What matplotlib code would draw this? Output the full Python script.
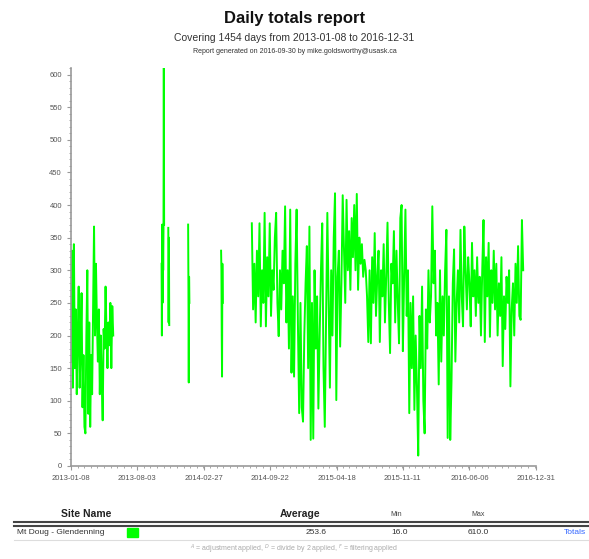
import pandas as pd
import matplotlib
matplotlib.use("Agg")
import matplotlib.pyplot as plt
from matplotlib.ticker import MultipleLocator, AutoMinorLocator
from matplotlib.patches import Rectangle
from matplotlib.lines import Line2D

plt.rcParams["font.family"] = ["Liberation Sans", "DejaVu Sans"]

# daily totals (gaps between segments are missing data)
seg1_start = "2013-01-08"   # every 3rd day
seg1_vals = [160, 330, 120, 340, 150, 240, 110, 200, 275, 120,
             180, 265, 90, 170, 60, 50, 200, 300, 80, 220,
             60, 170, 110, 240, 367, 200, 310, 220, 160, 240,
             110, 200, 130, 70, 210, 180, 275, 200, 150, 220,
             185, 250, 150, 245, 200]

seg2_start = "2013-10-18"   # daily
seg2_vals = [310, 200, 370, 250, 365, 300, 360, 610, 370]

seg3_start = "2013-11-08"
seg3_vals = [365, 220, 350, 216]

seg4_start = "2014-01-09"
seg4_vals = [370, 270, 128, 290, 250]

seg5_start = "2014-04-22"
seg5_vals = [330, 300, 200, 137, 310, 250]

seg6_start = "2014-07-27"   # every 4th day
seg6_vals = [372, 240, 310, 220, 330, 260, 372, 214, 300, 250,
             388, 214, 320, 260, 372, 230, 300, 270, 350, 388,
             250, 199, 300, 240, 330, 280, 398, 220, 300, 180,
             393, 143, 260, 137, 310, 393, 220, 81, 250, 90,
             68, 200, 280, 337, 150, 367, 40, 250, 42, 300,
             180, 260, 88, 200, 300, 372, 150, 60, 230, 388,
             250, 120, 300, 200, 350, 418, 101, 290, 330, 183,
             280, 415, 330, 250, 408, 300, 360, 270, 380, 320,
             400, 300, 417, 270, 350, 310, 340, 290, 316, 300,
             260, 190, 300, 188, 320, 250, 357, 230, 290, 330,
             190, 300, 260, 340, 220, 290, 373, 250, 173, 310,
             280, 360, 220, 330, 250, 188, 380, 400, 176, 290,
             393, 230, 300, 81, 250, 150, 260, 86, 200, 120,
             16, 230, 150, 275, 100, 50, 240, 180, 300, 220,
             260, 398, 280, 330, 200, 250, 125, 300, 160, 260,
             200, 300, 362, 43, 260, 40, 130, 280, 332, 160,
             250, 300, 220, 362, 260, 214, 367, 300, 240, 320,
             280, 214, 342, 260, 300, 230, 320, 250, 290, 200,
             300, 377, 190, 320, 260, 342, 198, 300, 250, 330,
             240, 310, 200, 280, 230, 320, 153, 260, 210, 290,
             250, 300, 122, 240, 280, 200, 310, 250, 337, 230,
             224, 377, 300]

segments = [(seg1_start, "3D", seg1_vals), (seg2_start, "D", seg2_vals),
            (seg3_start, "D", seg3_vals), (seg4_start, "D", seg4_vals),
            (seg5_start, "D", seg5_vals), (seg6_start, "4D", seg6_vals)]

x_tick_labels = ["2013-01-08", "2013-08-03", "2014-02-27", "2014-09-22",
                 "2015-04-18", "2015-11-11", "2016-06-06", "2016-12-31"]

site_name = "Mt Doug - Glendenning"
site_avg = "253.6"
site_min = "16.0"
site_max = "610.0"

W, H = 589, 559
fig = plt.figure(figsize=(W / 100, H / 100), dpi=100)


def fx(x):
    return x / W


def fy(y):
    return 1 - y / H


ax = fig.add_axes([fx(71), fy(466), fx(536) - fx(71), fy(68) - fy(466)])

for start, freq, vals in segments:
    idx = pd.date_range(start, periods=len(vals), freq=freq)
    ax.plot(idx, vals, color="#00ff00", lw=1.4)

ax.set_xlim(pd.Timestamp(x_tick_labels[0]), pd.Timestamp(x_tick_labels[-1]))
ax.set_ylim(0, 610)
ax.set_xticks(pd.to_datetime(x_tick_labels))
ax.set_xticklabels(x_tick_labels)
ax.yaxis.set_major_locator(MultipleLocator(50))
ax.yaxis.set_minor_locator(MultipleLocator(10))
ax.xaxis.set_minor_locator(AutoMinorLocator(10))

for s in ["top", "right"]:
    ax.spines[s].set_visible(False)
for s in ["left", "bottom"]:
    ax.spines[s].set_color("#999999")
    ax.spines[s].set_linewidth(1.2)
ax.tick_params(which="both", colors="#999999", labelcolor="#555555",
               labelsize=5.5, direction="out")
ax.tick_params(which="major", length=3)
ax.tick_params(which="minor", length=1.5)

# header
fig.text(0.5, fy(18), "Daily totals report", ha="center", va="center",
         fontsize=12, fontweight="bold", color="#111111")
fig.text(0.5, fy(38), "Covering 1454 days from 2013-01-08 to 2016-12-31",
         ha="center", va="center", fontsize=7.5, color="#333333")
fig.text(0.5, fy(52), "Report generated on 2016-09-30 by mike.goldsworthy@usask.ca",
         ha="center", va="center", fontsize=5, color="#333333")

# summary table
fig.text(fx(86), fy(514), "Site Name", ha="center", va="center",
         fontsize=7.5, fontweight="bold", color="#222222")
fig.text(fx(300), fy(514), "Average", ha="center", va="center",
         fontsize=7.5, fontweight="bold", color="#222222")
fig.text(fx(396), fy(515), "Min", ha="center", va="center",
         fontsize=5, color="#444444")
fig.text(fx(478), fy(515), "Max", ha="center", va="center",
         fontsize=5, color="#444444")
fig.add_artist(Line2D([fx(14), 1], [fy(522), fy(522)], color="#444444", lw=1.5))
fig.add_artist(Line2D([fx(14), 1], [fy(525.5), fy(525.5)], color="#444444", lw=1.5))

fig.text(fx(17), fy(532), site_name, ha="left", va="center",
         fontsize=6, color="#333333")
fig.add_artist(Rectangle((fx(127), fy(537)), fx(11), fy(528) - fy(537),
                         color="#00ff00", transform=fig.transFigure))
fig.text(fx(327), fy(532), site_avg, ha="right", va="center",
         fontsize=6, color="#333333")
fig.text(fx(391), fy(532), site_min, ha="left", va="center",
         fontsize=6, color="#333333")
fig.text(fx(468), fy(532), site_max, ha="left", va="center",
         fontsize=6, color="#333333")
fig.text(fx(586), fy(532), "Totals", ha="right", va="center",
         fontsize=6, color="#3366ff")
fig.add_artist(Line2D([fx(14), 1], [fy(540), fy(540)], color="#dddddd", lw=0.8))

fig.text(0.5, fy(549),
         r"$^{A}$ = adjustment applied, $^{D}$ = divide by 2 applied, $^{F}$ = filtering applied",
         ha="center", va="center", fontsize=5, color="#aaaaaa")

fig.savefig("out.png", dpi=100)
